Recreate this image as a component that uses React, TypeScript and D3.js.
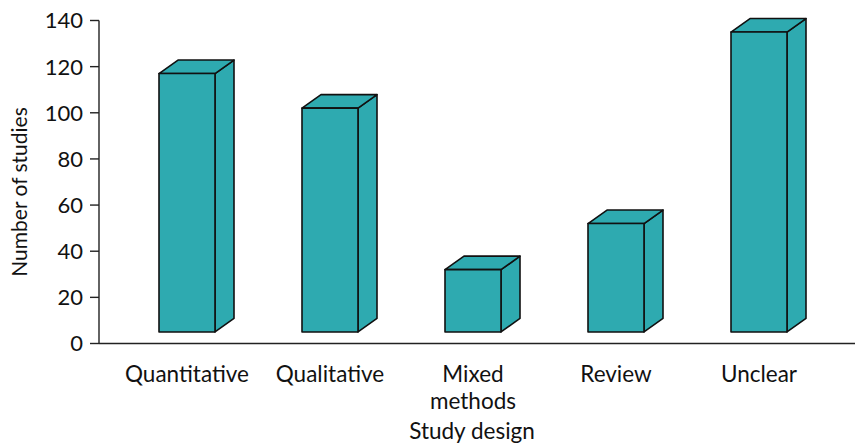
import React from "react";
import * as d3 from "d3";

// Number of studies per study design
const categories: string[][] = [
  ["Quantitative"],
  ["Qualitative"],
  ["Mixed", "methods"],
  ["Review"],
  ["Unclear"],
];
const counts: number[] = [117, 102, 32, 52, 135];
const yTicks: number[] = [0, 20, 40, 60, 80, 100, 120, 140];

const W = 855;
const H = 447;
const axisX = 99;
const floorValue = 5; // front face of each column starts slightly above zero
const depthX = 19;
const depthY = 13.5;
const barWidth = 56;
const fill = "#2eaab0";
const font = "Lato, 'Noto Sans', sans-serif";
const fontSize = 22.5;

export default function App() {
  const y = d3.scaleLinear().domain([0, 140]).range([343.5, 20.5]);
  const x = d3
    .scaleBand<number>()
    .domain(counts.map((_, i) => i))
    .range([115.5, 830.5])
    .padding(0);

  const bars = counts.map((v, i) => {
    const cx = (x(i) as number) + x.bandwidth() / 2;
    const x0 = cx - barWidth / 2;
    const x1 = cx + barWidth / 2;
    const yTop = y(v);
    const yBot = y(floorValue);
    const front = d3.path();
    front.rect(x0, yTop, barWidth, yBot - yTop);
    const top = d3.path();
    top.moveTo(x0, yTop);
    top.lineTo(x0 + depthX, yTop - depthY);
    top.lineTo(x1 + depthX, yTop - depthY);
    top.lineTo(x1, yTop);
    top.closePath();
    const side = d3.path();
    side.moveTo(x1, yTop);
    side.lineTo(x1 + depthX, yTop - depthY);
    side.lineTo(x1 + depthX, yBot - depthY);
    side.lineTo(x1, yBot);
    side.closePath();
    return { i, cx, paths: [side.toString(), top.toString(), front.toString()] };
  });

  return (
    <svg
      width={W}
      height={H}
      style={{ position: "absolute", left: 0, top: 0 }}
      fontFamily={font}
    >
      <rect width={W} height={H} fill="#ffffff" />
      {bars.map((b) => (
        <g key={b.i}>
          {b.paths.map((d, k) => (
            <path
              key={k}
              d={d}
              fill={fill}
              stroke="#111"
              strokeWidth={1.6}
              strokeLinejoin="round"
            />
          ))}
        </g>
      ))}
      {/* y axis */}
      <line x1={axisX} x2={axisX} y1={y(140)} y2={y(0)} stroke="#222" strokeWidth={1.4} />
      {yTicks.map((t) => (
        <g key={t}>
          <line x1={axisX - 9} x2={axisX} y1={y(t)} y2={y(t)} stroke="#222" strokeWidth={1.4} />
          <text
            x={axisX - 16}
            y={y(t)}
            dy="0.36em"
            textAnchor="end"
            fontSize={22}
            fill="#111"
          >
            {t}
          </text>
        </g>
      ))}
      {/* x axis */}
      <line x1={axisX} x2={W} y1={y(0)} y2={y(0)} stroke="#222" strokeWidth={1.4} />
      {bars.map((b) => (
        <text key={b.i} x={b.cx} y={381.5} textAnchor="middle" fontSize={fontSize} fill="#111">
          {categories[b.i].map((line, k) => (
            <tspan key={k} x={b.cx} dy={k === 0 ? 0 : 27}>
              {line}
            </tspan>
          ))}
        </text>
      ))}
      <text x={472} y={438.5} textAnchor="middle" fontSize={fontSize} fill="#111">
        Study design
      </text>
      <text
        transform={`translate(27,192) rotate(-90)`}
        textAnchor="middle"
        fontSize={21}
        fill="#111"
      >
        Number of studies
      </text>
    </svg>
  );
}
